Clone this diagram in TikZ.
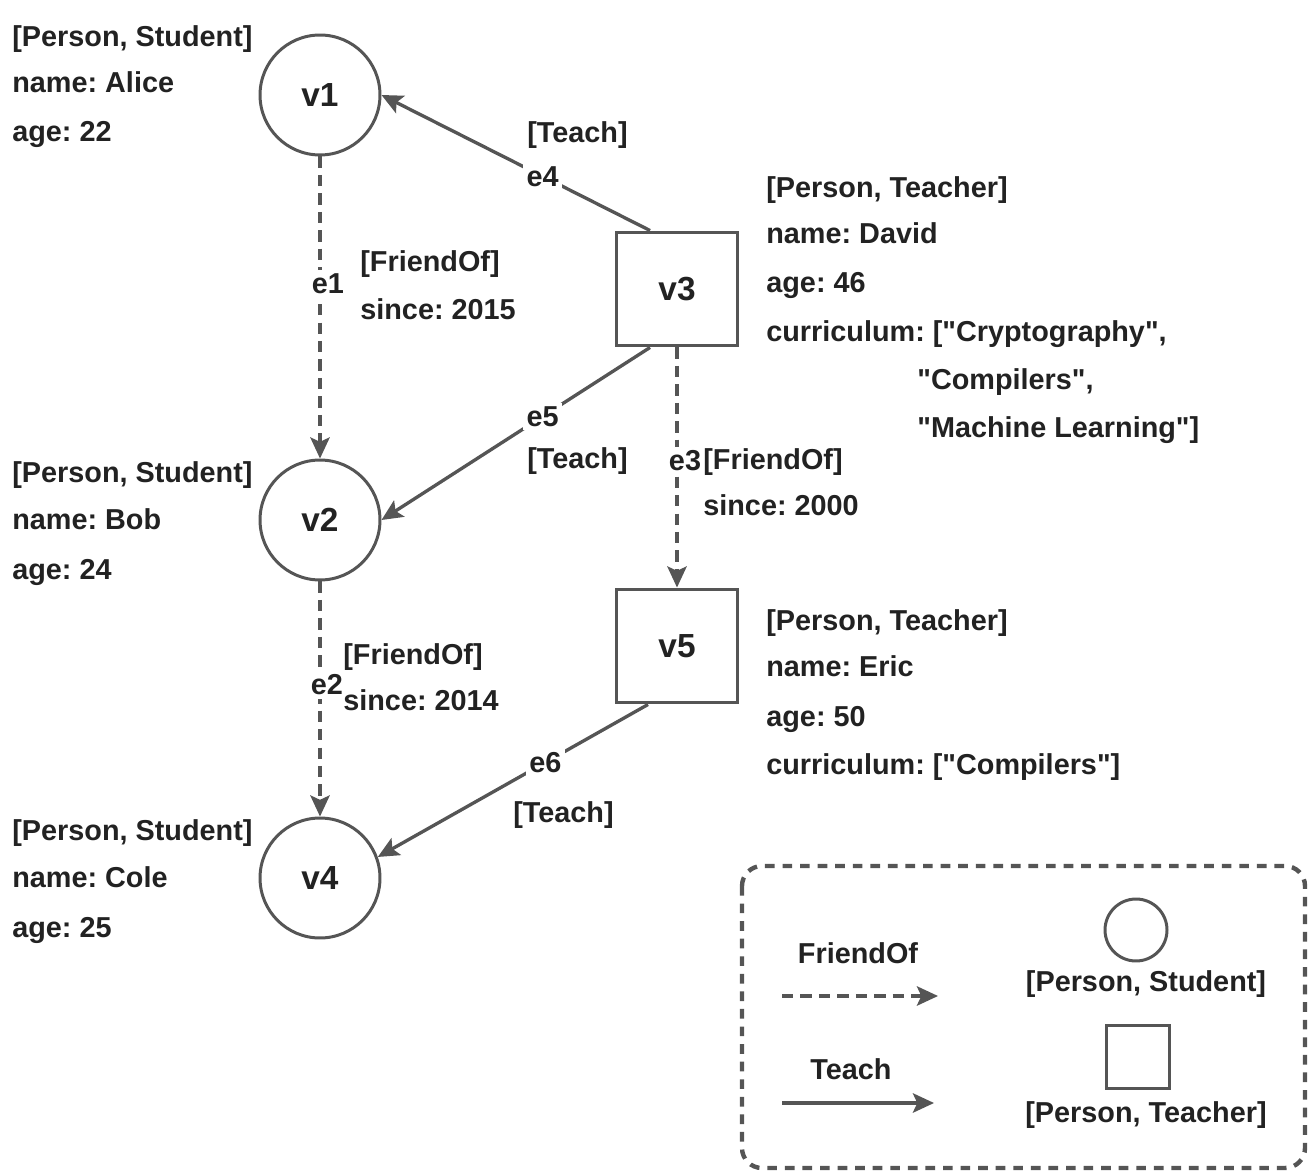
\documentclass[tikz,border=0pt]{standalone}
\usepackage{fontspec}
\setmainfont{Liberation Sans}[Ligatures=TeXOff]
\usetikzlibrary{arrows.meta}
\definecolor{edgegray}{HTML}{555555}
\definecolor{textdark}{HTML}{222222}
\frenchspacing
\tikzset{
  student/.style={circle, draw=edgegray, line width=1.7pt, minimum size=2.4cm,
    inner sep=0pt, text=textdark, font=\fontsize{19}{23}\selectfont\bfseries},
  teacher/.style={rectangle, draw=edgegray, line width=1.7pt, minimum width=2.42cm,
    minimum height=2.28cm, inner sep=0pt, text=textdark, font=\fontsize{19}{23}\selectfont\bfseries},
  prop/.style={anchor=base west, inner sep=0pt, text=textdark,
    font=\fontsize{16.4}{20}\selectfont\bfseries},
  legtext/.style={prop, anchor=base},
  elabel/.style={fill=white, inner sep=2pt, text=textdark,
    font=\fontsize{16.4}{20}\selectfont\bfseries},
  teach/.style={draw=edgegray, line width=1.9pt,
    -{Stealth[length=12pt, width=11pt, inset=2.5pt]}},
  friend/.style={teach, dash pattern=on 6.5pt off 4pt},
  legendbox/.style={draw=edgegray, line width=2.5pt, rounded corners=0.4cm,
    dash pattern=on 5.5pt off 4.5pt}
}
\begin{document}
\begin{tikzpicture}[x=0.02cm, y=-0.02cm]
  \useasboundingbox (0,0) rectangle (1314,1175);

  % vertices
  \node[student] (v1) at (320,95) {v1};
  \node[student] (v2) at (320,520) {v2};
  \node[student] (v4) at (320,878) {v4};
  \node[teacher] (v3) at (677,289) {v3};
  \node[teacher] (v5) at (677,646) {v5};

  % vertex properties
  \node[prop] (v1type) at (12,47) {[Person, Student]};
  \node[prop] (v1name) at (12,93) {name: Alice};
  \node[prop] (v1age) at (12,142) {age: 22};

  \node[prop] (v2type) at (12,482) {[Person, Student]};
  \node[prop] (v2name) at (12,529) {name: Bob};
  \node[prop] (v2age) at (12,579) {age: 24};

  \node[prop] (v4type) at (12,840) {[Person, Student]};
  \node[prop] (v4name) at (12,887) {name: Cole};
  \node[prop] (v4age) at (12,937) {age: 25};

  \node[prop] (v3type) at (766,198) {[Person, Teacher]};
  \node[prop] (v3name) at (766,244) {name: David};
  \node[prop] (v3age) at (766,293) {age: 46};
  \node[prop] (v3cur) at (766,342) {curriculum: [\char34Cryptography\char34,};
  \node[prop] (v3cura) at (917,390) {\char34Compilers\char34,};
  \node[prop] (v3curb) at (917,438) {\char34Machine Learning\char34]};

  \node[prop] (v5type) at (766,630) {[Person, Teacher]};
  \node[prop] (v5name) at (766,676) {name: Eric};
  \node[prop] (v5age) at (766,726) {age: 50};
  \node[prop] (v5cur) at (766,774) {curriculum: [\char34Compilers\char34]};

  % edges
  \draw[teach] ([xshift=-0.54cm]v3.north) -- node[elabel, pos=0.4] (e4) {e4} (v1.east);
  \draw[teach] ([xshift=-0.54cm]v3.south) -- node[elabel, pos=0.4] (e5) {e5} (v2.east);
  \draw[teach] ([xshift=-0.58cm]v5.south) -- node[elabel, pos=0.38] (e6) {e6} (v4.20);
  \draw[friend] (v1.south) -- node[elabel, pos=0.42, xshift=0.16cm] (e1) {e1} (v2.north);
  \draw[friend] (v2.south) -- node[elabel, pos=0.44, xshift=0.14cm] (e2) {e2} (v4.north);
  \draw[friend] (v3.south) -- node[elabel, pos=0.47, xshift=0.16cm] (e3) {e3} (v5.north);

  % edge properties
  \node[prop] (e4type) at (527,143) {[Teach]};
  \node[prop] (e5type) at (527,468) {[Teach]};
  \node[prop] (e6type) at (513,822) {[Teach]};
  \node[prop] (e1type) at (360,272) {[FriendOf]};
  \node[prop] (e1since) at (360,320) {since: 2015};
  \node[prop] (e2type) at (343,664) {[FriendOf]};
  \node[prop] (e2since) at (343,710) {since: 2014};
  \node[prop] (e3type) at (703,469) {[FriendOf]};
  \node[prop] (e3since) at (703,515) {since: 2000};

  % legend
  \draw[legendbox] (742,866) rectangle (1305,1168);
  \node[legtext] (legfriend) at (858,963) {FriendOf};
  \node[legtext] (legteach) at (851,1079) {Teach};
  \coordinate (legfa) at (782,996);
  \coordinate (legfb) at (938,996);
  \coordinate (legta) at (782,1103);
  \coordinate (legtb) at (934,1103);
  \draw[friend] (legfa) -- (legfb);
  \draw[teach] (legta) -- (legtb);
  \node[student, minimum size=1.24cm] (legstu) at (1136,930) {};
  \node[teacher, minimum width=1.26cm, minimum height=1.26cm] (legtea) at (1138,1057) {};
  \node[legtext] (legstutext) at (1146,991) {[Person, Student]};
  \node[legtext] (legteatext) at (1146,1122) {[Person, Teacher]};
\end{tikzpicture}
\end{document}
